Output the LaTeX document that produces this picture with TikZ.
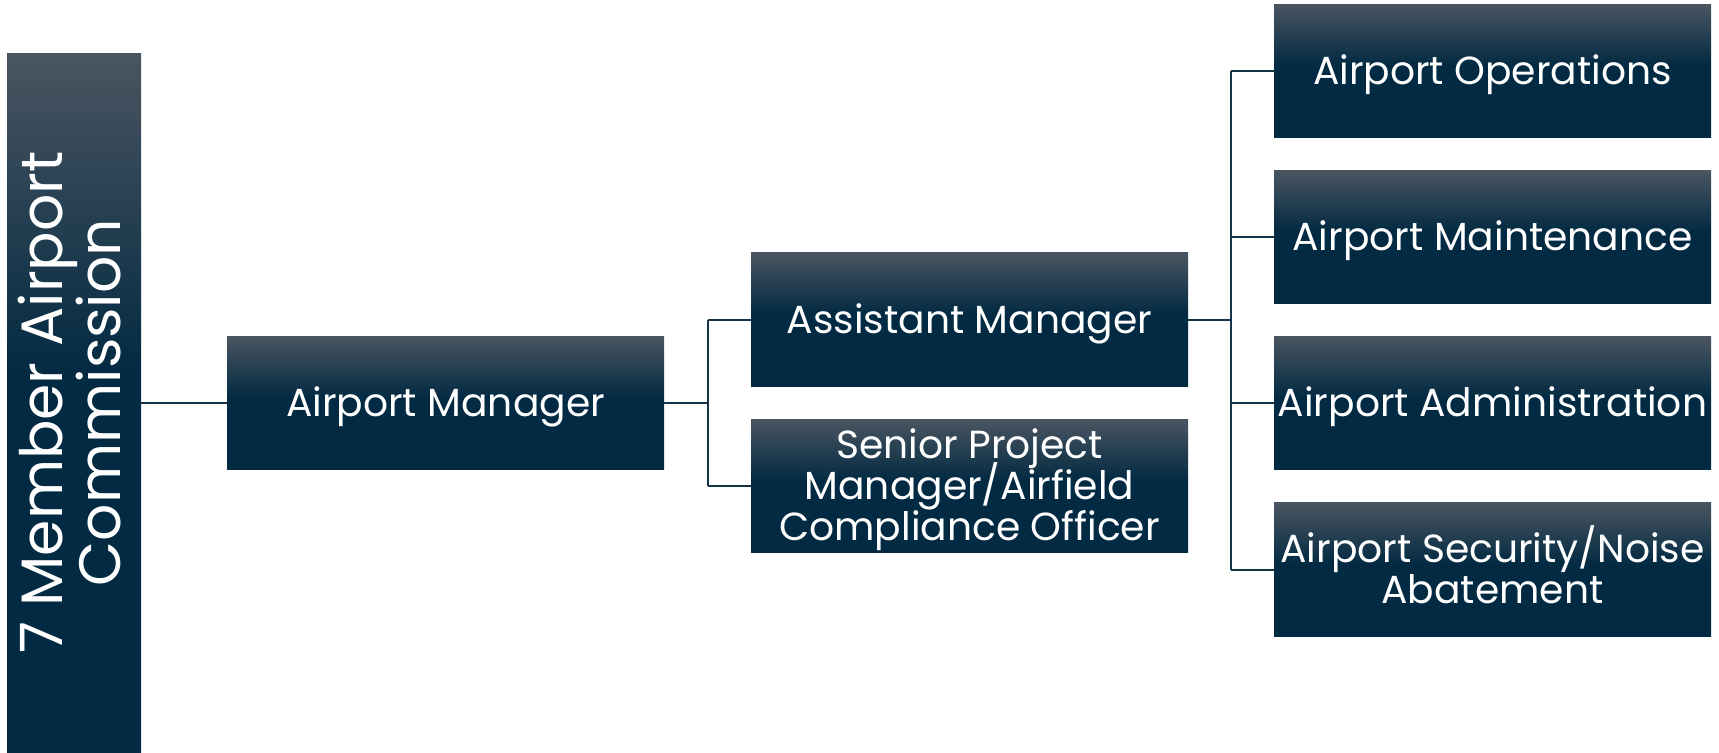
\documentclass[tikz,border=0pt]{standalone}
\usepackage{fontspec}
\setmainfont{Poppins}
\definecolor{navy}{RGB}{2,42,66}
\definecolor{slate}{RGB}{74,85,97}
\definecolor{linec}{RGB}{22,52,72}
\pgfdeclareverticalshading{boxshade}{100bp}{color(0bp)=(navy); color(25bp)=(navy); color(52bp)=(navy); color(75bp)=(slate); color(100bp)=(slate)}
\newcommand\mystrut{\rule[-4.5pt]{0pt}{20.5pt}}
\newcommand\lowline[1]{\rule[-3.375pt]{0pt}{20.5pt}\smash{#1}}
\newcommand\bigstrut{\rule[-6pt]{0pt}{29pt}}
\newcommand\boxfont{\fontsize{19.6}{20.5}\selectfont\setlength{\lineskiplimit}{-50pt}\setlength{\lineskip}{0pt}}
\newcommand\comfont{\fontsize{29.2}{29}\selectfont\setlength{\lineskiplimit}{-50pt}\setlength{\lineskip}{0pt}}
\begin{document}
\begin{tikzpicture}[x=0.5pt,y=-0.5pt,
  box/.style={shading=boxshade, minimum width=218.5pt, minimum height=66.75pt, inner sep=0pt, text=white, align=center, font=\boxfont},
  conn/.style={draw=linec, line width=1pt}]
\useasboundingbox (0,0) rectangle (1719,752);
\fill[white] (0,0) rectangle (1719,752);
\node[box, minimum width=67pt, minimum height=349.5pt] (com) at (74,402.5) {};
\node[rotate=90, text=white, align=center, inner sep=0pt, font=\comfont] (comt) at (com.center) {\bigstrut 7 Member Airport\\\bigstrut Commission};
\node[box] (am) at (445.5,403) {\lowline{Airport Manager}};
\node[box] (asst) at (969.5,319.5) {\lowline{Assistant Manager}};
\node[box] (sen) at (969.5,486) {\lowline{Senior Project}\\\lowline{Manager/Airfield}\\\lowline{Compliance Officer}};
\node[box] (ops) at (1492.5,71) {\lowline{Airport Operations}};
\node[box] (mnt) at (1492.5,237) {\lowline{Airport Maintenance}};
\node[box] (adm) at (1492.5,403) {\lowline{Airport Administration}};
\node[box] (sec) at (1492.5,569.5) {\mystrut Airport Security/Noise\\\mystrut Abatement};
\coordinate (j1) at (707.5,403);
\coordinate (j2) at (1231,320);
\draw[conn] (com.east |- am.west) -- (am.west);
\draw[conn] (am.east) -- (j1);
\draw[conn] (j1 |- asst.west) -- (j1 |- sen.west);
\draw[conn] (j1 |- asst.west) -- (asst.west);
\draw[conn] (j1 |- sen.west) -- (sen.west);
\draw[conn] (asst.east) -- (j2 |- asst.east);
\draw[conn] (j2 |- ops.west) -- (j2 |- sec.west);
\draw[conn] (j2 |- ops.west) -- (ops.west);
\draw[conn] (j2 |- mnt.west) -- (mnt.west);
\draw[conn] (j2 |- adm.west) -- (adm.west);
\draw[conn] (j2 |- sec.west) -- (sec.west);
\end{tikzpicture}
\end{document}
